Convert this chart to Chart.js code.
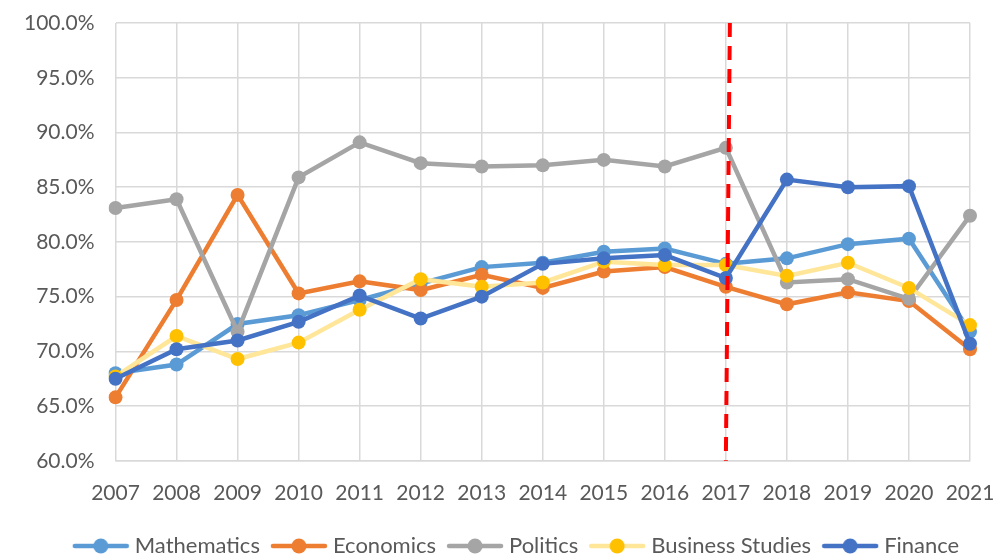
<!DOCTYPE html>
<html>
<head>
<meta charset="utf-8">
<script src="https://cdn.jsdelivr.net/npm/chart.js"></script>
<style>
  html, body { margin: 0; padding: 0; background: #fff; }
  #wrap { width: 1007px; height: 560px; }
</style>
</head>
<body>
<div id="wrap"><canvas id="chart" width="1007" height="560"></canvas></div>
<script>
// years on the x axis
const years = ['2007', '2008', '2009', '2010', '2011', '2012', '2013', '2014',
               '2015', '2016', '2017', '2018', '2019', '2020', '2021'];

// values in percent
const mathematics = [68.0, 68.8, 72.5, 73.3, 74.7, 76.2, 77.7, 78.1, 79.1, 79.4, 78.0, 78.5, 79.8, 80.3, 71.8];
const economics   = [65.8, 74.7, 84.3, 75.3, 76.4, 75.6, 77.0, 75.8, 77.3, 77.7, 75.9, 74.3, 75.4, 74.6, 70.2];
const politics    = [83.1, 83.9, 71.8, 85.9, 89.1, 87.2, 86.9, 87.0, 87.5, 86.9, 88.6, 76.3, 76.6, 74.8, 82.4];
const business    = [67.7, 71.4, 69.3, 70.8, 73.8, 76.6, 75.9, 76.3, 78.2, 77.9, 77.9, 76.9, 78.1, 75.8, 72.4];
const finance     = [67.5, 70.2, 71.0, 72.7, 75.1, 73.0, 75.0, 78.0, 78.5, 78.8, 76.7, 85.7, 85.0, 85.1, 70.7];

const yTicks = [60, 65, 70, 75, 80, 85, 90, 95, 100];
const markerYear = '2017';

const FONT = 'Lato, "Liberation Sans", sans-serif';
const TEXT = '#595959';

// little legend swatch: line with a dot in the middle
function swatch(lineColor, dotColor) {
    const c = document.createElement('canvas');
    c.width = 58; c.height = 18;
    const g = c.getContext('2d');
    g.strokeStyle = lineColor;
    g.lineWidth = 4.5;
    g.lineCap = 'round';
    g.beginPath();
    g.moveTo(3, 9); g.lineTo(55, 9);
    g.stroke();
    g.fillStyle = dotColor;
    g.beginPath();
    g.arc(29, 9, 7.5, 0, Math.PI * 2);
    g.fill();
    return c;
}

function series(label, data, line, dot, order) {
    return {
        label: label,
        data: data,
        borderColor: line,
        backgroundColor: dot,
        pointBackgroundColor: dot,
        pointBorderColor: dot,
        pointRadius: 7,
        pointHoverRadius: 7,
        pointBorderWidth: 0,
        borderWidth: 4.5,
        tension: 0,
        fill: false,
        order: order,
        pointStyle: 'circle',
        legendSwatch: swatch(line, dot)
    };
}

// red dashed divider at 2017
const dividerPlugin = {
    id: 'divider',
    afterDatasetsDraw(chart) {
        const x = chart.scales.x.getPixelForValue(years.indexOf(markerYear));
        const area = chart.chartArea;
        const ctx = chart.ctx;
        ctx.save();
        ctx.strokeStyle = '#FF0000';
        ctx.lineWidth = 4;
        ctx.setLineDash([14, 9]);
        ctx.beginPath();
        ctx.moveTo(x + 4, area.top);
        ctx.lineTo(x, area.bottom);
        ctx.stroke();
        ctx.restore();
    }
};

// legend sits a bit right of centre in the original
const legendNudge = {
    id: 'legendNudge',
    afterLayout(chart) {
        chart.legend.left += 24;
        chart.legend.right += 24;
    }
};

new Chart(document.getElementById('chart').getContext('2d'), {
    type: 'line',
    data: {
        labels: years,
        datasets: [
            series('Mathematics', mathematics, '#5B9BD5', '#5B9BD5', 5),
            series('Economics', economics, '#ED7D31', '#ED7D31', 4),
            series('Politics', politics, '#A5A5A5', '#A5A5A5', 3),
            series('Business Studies', business, '#FFE699', '#FFC000', 2),
            series('Finance', finance, '#4472C4', '#4472C4', 1)
        ]
    },
    options: {
        responsive: false,
        animation: false,
        layout: {
            padding: { left: 3, right: 21, top: 0, bottom: -7 }
        },
        plugins: {
            tooltip: { enabled: false },
            legend: {
                position: 'bottom',
                labels: {
                    usePointStyle: true,
                    pointStyleWidth: 46,
                    color: TEXT,
                    font: { family: FONT, size: 22 },
                    padding: 16,
                    sort: (a, b) => a.datasetIndex - b.datasetIndex,
                    generateLabels(chart) {
                        return chart.data.datasets.map((ds, i) => ({
                            text: ds.label,
                            datasetIndex: i,
                            pointStyle: ds.legendSwatch,
                            fillStyle: ds.backgroundColor,
                            strokeStyle: ds.borderColor,
                            lineWidth: 0,
                            fontColor: TEXT,
                            hidden: false
                        }));
                    }
                }
            }
        },
        scales: {
            x: {
                offset: false,
                grid: { color: '#D9D9D9', lineWidth: 1.5, drawTicks: false },
                border: { color: '#D9D9D9', width: 1.5 },
                ticks: {
                    color: TEXT,
                    font: { family: FONT, size: 21 },
                    padding: 20,
                    maxRotation: 0,
                    autoSkip: false
                },
                afterFit(scale) {
                    scale.height -= 7;
                    scale.paddingLeft = 20;
                    scale.paddingRight = 37;
                }
            },
            y: {
                min: yTicks[0],
                max: yTicks[yTicks.length - 1],
                afterBuildTicks(axis) {
                    axis.ticks = yTicks.map(v => ({ value: v }));
                },
                grid: { color: '#D9D9D9', lineWidth: 1.5, drawTicks: false },
                border: { display: false },
                ticks: {
                    color: TEXT,
                    font: { family: FONT, size: 21, lineHeight: 0.2 },
                    padding: 21,
                    callback: v => v.toFixed(1) + '%'
                }
            }
        }
    },
    plugins: [dividerPlugin, legendNudge]
});
</script>
</body>
</html>
